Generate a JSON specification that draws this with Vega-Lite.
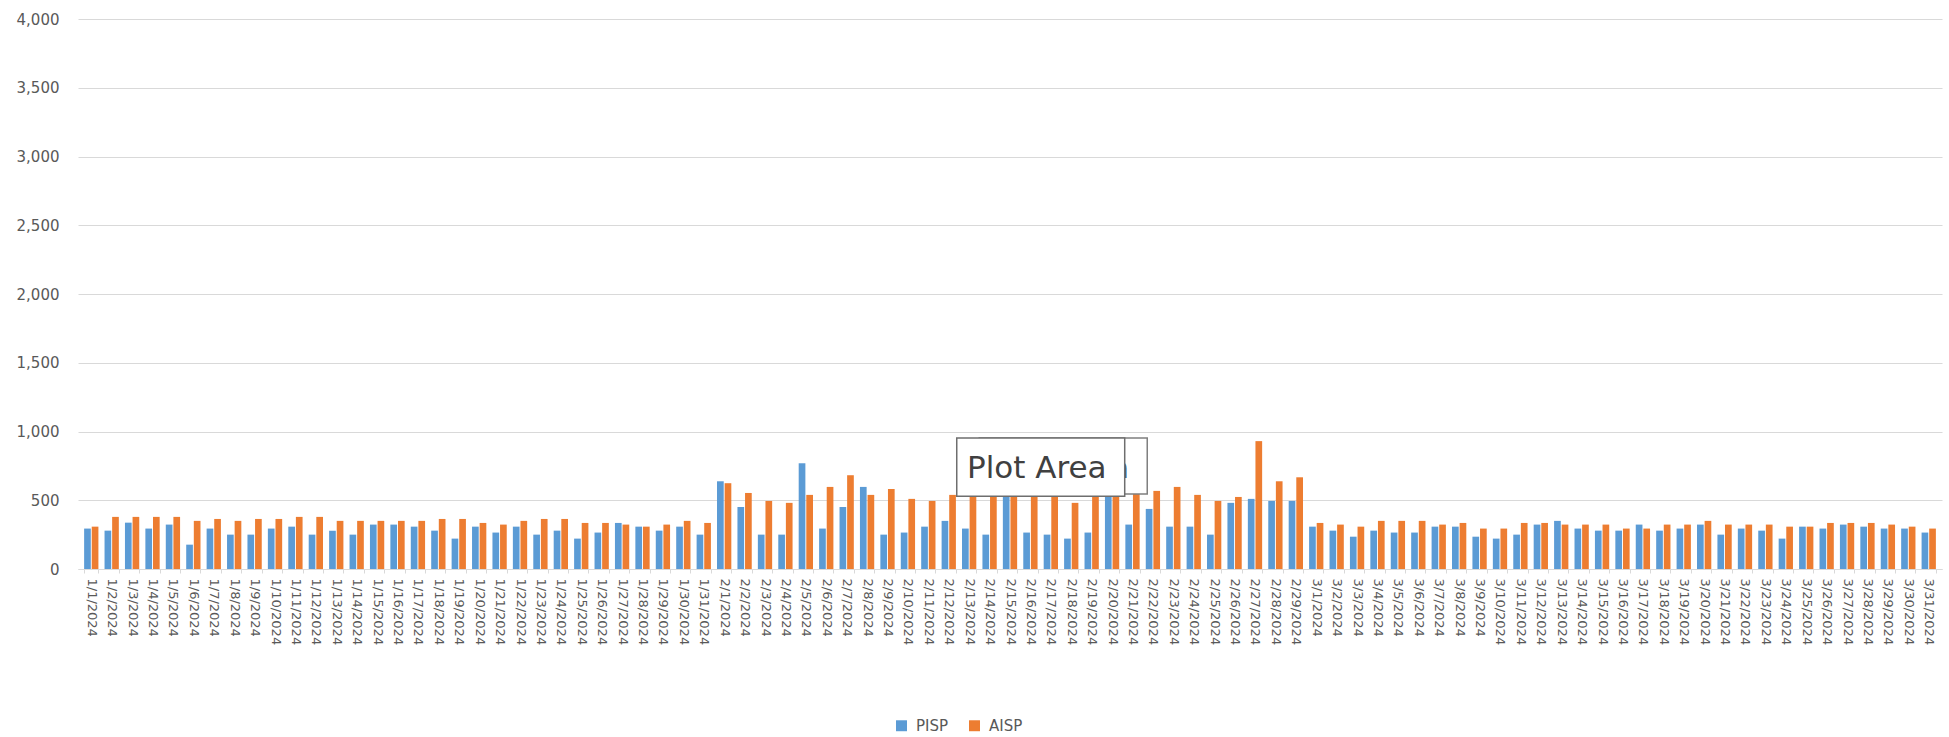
{
  "$schema": "https://vega.github.io/schema/vega-lite/v6.json",
  "width": 1864,
  "height": 550,
  "autosize": {"type": "none"},
  "padding": {"left": 78, "top": 19, "right": 7, "bottom": 168},
  "config": {
    "view": {"stroke": null},
    "font": "DejaVu Sans",
    "axis": {"labelColor": "#595959", "titleColor": "#595959"}
  },
  "datasets": {
    "isp": [
      {"d":"1/1/2024","s":"PISP","v":294},{"d":"1/1/2024","s":"AISP","v":308},
      {"d":"1/2/2024","s":"PISP","v":279},{"d":"1/2/2024","s":"AISP","v":379},
      {"d":"1/3/2024","s":"PISP","v":337},{"d":"1/3/2024","s":"AISP","v":379},
      {"d":"1/4/2024","s":"PISP","v":294},{"d":"1/4/2024","s":"AISP","v":379},
      {"d":"1/5/2024","s":"PISP","v":323},{"d":"1/5/2024","s":"AISP","v":379},
      {"d":"1/6/2024","s":"PISP","v":177},{"d":"1/6/2024","s":"AISP","v":350},
      {"d":"1/7/2024","s":"PISP","v":294},{"d":"1/7/2024","s":"AISP","v":364},
      {"d":"1/8/2024","s":"PISP","v":250},{"d":"1/8/2024","s":"AISP","v":350},
      {"d":"1/9/2024","s":"PISP","v":250},{"d":"1/9/2024","s":"AISP","v":364},
      {"d":"1/10/2024","s":"PISP","v":294},{"d":"1/10/2024","s":"AISP","v":364},
      {"d":"1/11/2024","s":"PISP","v":308},{"d":"1/11/2024","s":"AISP","v":379},
      {"d":"1/12/2024","s":"PISP","v":250},{"d":"1/12/2024","s":"AISP","v":379},
      {"d":"1/13/2024","s":"PISP","v":279},{"d":"1/13/2024","s":"AISP","v":350},
      {"d":"1/14/2024","s":"PISP","v":250},{"d":"1/14/2024","s":"AISP","v":350},
      {"d":"1/15/2024","s":"PISP","v":323},{"d":"1/15/2024","s":"AISP","v":350},
      {"d":"1/16/2024","s":"PISP","v":323},{"d":"1/16/2024","s":"AISP","v":350},
      {"d":"1/17/2024","s":"PISP","v":308},{"d":"1/17/2024","s":"AISP","v":350},
      {"d":"1/18/2024","s":"PISP","v":279},{"d":"1/18/2024","s":"AISP","v":364},
      {"d":"1/19/2024","s":"PISP","v":221},{"d":"1/19/2024","s":"AISP","v":364},
      {"d":"1/20/2024","s":"PISP","v":308},{"d":"1/20/2024","s":"AISP","v":335},
      {"d":"1/21/2024","s":"PISP","v":265},{"d":"1/21/2024","s":"AISP","v":323},
      {"d":"1/22/2024","s":"PISP","v":308},{"d":"1/22/2024","s":"AISP","v":350},
      {"d":"1/23/2024","s":"PISP","v":250},{"d":"1/23/2024","s":"AISP","v":364},
      {"d":"1/24/2024","s":"PISP","v":279},{"d":"1/24/2024","s":"AISP","v":364},
      {"d":"1/25/2024","s":"PISP","v":221},{"d":"1/25/2024","s":"AISP","v":335},
      {"d":"1/26/2024","s":"PISP","v":265},{"d":"1/26/2024","s":"AISP","v":335},
      {"d":"1/27/2024","s":"PISP","v":335},{"d":"1/27/2024","s":"AISP","v":323},
      {"d":"1/28/2024","s":"PISP","v":308},{"d":"1/28/2024","s":"AISP","v":308},
      {"d":"1/29/2024","s":"PISP","v":279},{"d":"1/29/2024","s":"AISP","v":323},
      {"d":"1/30/2024","s":"PISP","v":308},{"d":"1/30/2024","s":"AISP","v":350},
      {"d":"1/31/2024","s":"PISP","v":250},{"d":"1/31/2024","s":"AISP","v":335},
      {"d":"2/1/2024","s":"PISP","v":638},{"d":"2/1/2024","s":"AISP","v":624},
      {"d":"2/2/2024","s":"PISP","v":451},{"d":"2/2/2024","s":"AISP","v":553},
      {"d":"2/3/2024","s":"PISP","v":250},{"d":"2/3/2024","s":"AISP","v":495},
      {"d":"2/4/2024","s":"PISP","v":250},{"d":"2/4/2024","s":"AISP","v":481},
      {"d":"2/5/2024","s":"PISP","v":769},{"d":"2/5/2024","s":"AISP","v":539},
      {"d":"2/6/2024","s":"PISP","v":294},{"d":"2/6/2024","s":"AISP","v":597},
      {"d":"2/7/2024","s":"PISP","v":451},{"d":"2/7/2024","s":"AISP","v":682},
      {"d":"2/8/2024","s":"PISP","v":597},{"d":"2/8/2024","s":"AISP","v":539},
      {"d":"2/9/2024","s":"PISP","v":250},{"d":"2/9/2024","s":"AISP","v":582},
      {"d":"2/10/2024","s":"PISP","v":265},{"d":"2/10/2024","s":"AISP","v":510},
      {"d":"2/11/2024","s":"PISP","v":308},{"d":"2/11/2024","s":"AISP","v":495},
      {"d":"2/12/2024","s":"PISP","v":350},{"d":"2/12/2024","s":"AISP","v":539},
      {"d":"2/13/2024","s":"PISP","v":294},{"d":"2/13/2024","s":"AISP","v":560},
      {"d":"2/14/2024","s":"PISP","v":250},{"d":"2/14/2024","s":"AISP","v":540},
      {"d":"2/15/2024","s":"PISP","v":560},{"d":"2/15/2024","s":"AISP","v":580},
      {"d":"2/16/2024","s":"PISP","v":265},{"d":"2/16/2024","s":"AISP","v":560},
      {"d":"2/17/2024","s":"PISP","v":250},{"d":"2/17/2024","s":"AISP","v":540},
      {"d":"2/18/2024","s":"PISP","v":221},{"d":"2/18/2024","s":"AISP","v":481},
      {"d":"2/19/2024","s":"PISP","v":265},{"d":"2/19/2024","s":"AISP","v":590},
      {"d":"2/20/2024","s":"PISP","v":540},{"d":"2/20/2024","s":"AISP","v":570},
      {"d":"2/21/2024","s":"PISP","v":323},{"d":"2/21/2024","s":"AISP","v":600},
      {"d":"2/22/2024","s":"PISP","v":437},{"d":"2/22/2024","s":"AISP","v":568},
      {"d":"2/23/2024","s":"PISP","v":308},{"d":"2/23/2024","s":"AISP","v":597},
      {"d":"2/24/2024","s":"PISP","v":308},{"d":"2/24/2024","s":"AISP","v":539},
      {"d":"2/25/2024","s":"PISP","v":250},{"d":"2/25/2024","s":"AISP","v":495},
      {"d":"2/26/2024","s":"PISP","v":481},{"d":"2/26/2024","s":"AISP","v":524},
      {"d":"2/27/2024","s":"PISP","v":510},{"d":"2/27/2024","s":"AISP","v":930},
      {"d":"2/28/2024","s":"PISP","v":495},{"d":"2/28/2024","s":"AISP","v":638},
      {"d":"2/29/2024","s":"PISP","v":495},{"d":"2/29/2024","s":"AISP","v":667},
      {"d":"3/1/2024","s":"PISP","v":308},{"d":"3/1/2024","s":"AISP","v":335},
      {"d":"3/2/2024","s":"PISP","v":279},{"d":"3/2/2024","s":"AISP","v":323},
      {"d":"3/3/2024","s":"PISP","v":235},{"d":"3/3/2024","s":"AISP","v":308},
      {"d":"3/4/2024","s":"PISP","v":279},{"d":"3/4/2024","s":"AISP","v":350},
      {"d":"3/5/2024","s":"PISP","v":265},{"d":"3/5/2024","s":"AISP","v":350},
      {"d":"3/6/2024","s":"PISP","v":265},{"d":"3/6/2024","s":"AISP","v":350},
      {"d":"3/7/2024","s":"PISP","v":308},{"d":"3/7/2024","s":"AISP","v":323},
      {"d":"3/8/2024","s":"PISP","v":308},{"d":"3/8/2024","s":"AISP","v":335},
      {"d":"3/9/2024","s":"PISP","v":235},{"d":"3/9/2024","s":"AISP","v":294},
      {"d":"3/10/2024","s":"PISP","v":221},{"d":"3/10/2024","s":"AISP","v":294},
      {"d":"3/11/2024","s":"PISP","v":250},{"d":"3/11/2024","s":"AISP","v":335},
      {"d":"3/12/2024","s":"PISP","v":323},{"d":"3/12/2024","s":"AISP","v":335},
      {"d":"3/13/2024","s":"PISP","v":350},{"d":"3/13/2024","s":"AISP","v":323},
      {"d":"3/14/2024","s":"PISP","v":294},{"d":"3/14/2024","s":"AISP","v":323},
      {"d":"3/15/2024","s":"PISP","v":279},{"d":"3/15/2024","s":"AISP","v":323},
      {"d":"3/16/2024","s":"PISP","v":279},{"d":"3/16/2024","s":"AISP","v":294},
      {"d":"3/17/2024","s":"PISP","v":323},{"d":"3/17/2024","s":"AISP","v":294},
      {"d":"3/18/2024","s":"PISP","v":279},{"d":"3/18/2024","s":"AISP","v":323},
      {"d":"3/19/2024","s":"PISP","v":294},{"d":"3/19/2024","s":"AISP","v":323},
      {"d":"3/20/2024","s":"PISP","v":323},{"d":"3/20/2024","s":"AISP","v":350},
      {"d":"3/21/2024","s":"PISP","v":250},{"d":"3/21/2024","s":"AISP","v":323},
      {"d":"3/22/2024","s":"PISP","v":294},{"d":"3/22/2024","s":"AISP","v":323},
      {"d":"3/23/2024","s":"PISP","v":279},{"d":"3/23/2024","s":"AISP","v":323},
      {"d":"3/24/2024","s":"PISP","v":221},{"d":"3/24/2024","s":"AISP","v":308},
      {"d":"3/25/2024","s":"PISP","v":308},{"d":"3/25/2024","s":"AISP","v":308},
      {"d":"3/26/2024","s":"PISP","v":294},{"d":"3/26/2024","s":"AISP","v":335},
      {"d":"3/27/2024","s":"PISP","v":323},{"d":"3/27/2024","s":"AISP","v":335},
      {"d":"3/28/2024","s":"PISP","v":308},{"d":"3/28/2024","s":"AISP","v":335},
      {"d":"3/29/2024","s":"PISP","v":294},{"d":"3/29/2024","s":"AISP","v":323},
      {"d":"3/30/2024","s":"PISP","v":294},{"d":"3/30/2024","s":"AISP","v":308},
      {"d":"3/31/2024","s":"PISP","v":265},{"d":"3/31/2024","s":"AISP","v":294}
    ],
    "tip": [
      {"box":"back","x1":44.0,"x2":52.2,"y1":545,"y2":952,"tx":44.5,"ty":726,"label":"Plot Area"},
      {"box":"front","x1":42.9,"x2":51.1,"y1":530,"y2":952,"tx":43.4,"ty":726,"label":"Plot Area"}
    ]
  },
  "resolve": {"scale": {"x": "independent"}, "axis": {"x": "independent"}},
  "layer": [
    {
      "data": {"name": "isp"},
      "mark": {"type": "bar"},
      "encoding": {
        "x": {
          "field": "d", "type": "ordinal", "sort": null,
          "scale": {"paddingInner": 0.3, "paddingOuter": 0.3},
          "axis": {
            "title": null, "labelAngle": 90, "labelFontSize": 13, "labelPadding": 5,
            "domainColor": "#D9D9D9", "tickColor": "#D9D9D9", "tickSize": 4, "tickBand": "extent"
          }
        },
        "xOffset": {
          "field": "s", "type": "nominal", "sort": ["PISP", "AISP"],
          "scale": {"domain": ["PISP", "AISP"], "paddingInner": 0.12}
        },
        "y": {
          "field": "v", "type": "quantitative",
          "scale": {"domain": [0, 4000], "nice": false},
          "axis": {
            "title": null, "values": [0,500,1000,1500,2000,2500,3000,3500,4000], "format": ",.0f",
            "labelFontSize": 15, "labelPadding": 19, "domain": false, "ticks": false,
            "gridColor": "#D9D9D9", "gridWidth": 1
          }
        },
        "color": {
          "field": "s", "type": "nominal",
          "scale": {"domain": ["PISP", "AISP"], "range": ["#5B9BD5", "#ED7D31"]},
          "legend": {
            "title": null, "orient": "none", "direction": "horizontal",
            "legendX": 816, "legendY": 699,
            "symbolType": "square", "symbolSize": 120, "symbolStrokeWidth": 0,
            "labelFontSize": 15, "labelColor": "#595959", "columnPadding": 18, "labelOffset": 7
          }
        }
      }
    },
    {
      "data": {"name": "tip"},
      "layer": [
        {
          "transform": [{"filter": "datum.box === 'back'"}],
          "mark": {"type": "rect", "fill": "#ffffff", "stroke": "#7F7F7F", "strokeWidth": 1.5},
          "encoding": {
            "x": {"field": "x1", "type": "quantitative", "scale": {"domain": [0, 91], "nice": false, "zero": false}, "axis": null},
            "x2": {"field": "x2"},
            "y": {"field": "y1", "type": "quantitative"},
            "y2": {"field": "y2"}
          }
        },
        {
          "transform": [{"filter": "datum.box === 'back'"}],
          "mark": {"type": "text", "align": "left", "baseline": "middle", "fontSize": 31, "color": "#44546A"},
          "encoding": {
            "x": {"field": "tx", "type": "quantitative", "axis": null},
            "y": {"field": "ty", "type": "quantitative"},
            "text": {"field": "label"}
          }
        },
        {
          "transform": [{"filter": "datum.box === 'front'"}],
          "mark": {"type": "rect", "fill": "#ffffff", "stroke": "#6E6E6E", "strokeWidth": 1.5},
          "encoding": {
            "x": {"field": "x1", "type": "quantitative", "axis": null},
            "x2": {"field": "x2"},
            "y": {"field": "y1", "type": "quantitative"},
            "y2": {"field": "y2"}
          }
        },
        {
          "transform": [{"filter": "datum.box === 'front'"}],
          "mark": {"type": "text", "align": "left", "baseline": "middle", "fontSize": 31, "color": "#404040"},
          "encoding": {
            "x": {"field": "tx", "type": "quantitative", "axis": null},
            "y": {"field": "ty", "type": "quantitative"},
            "text": {"field": "label"}
          }
        }
      ]
    }
  ]
}
